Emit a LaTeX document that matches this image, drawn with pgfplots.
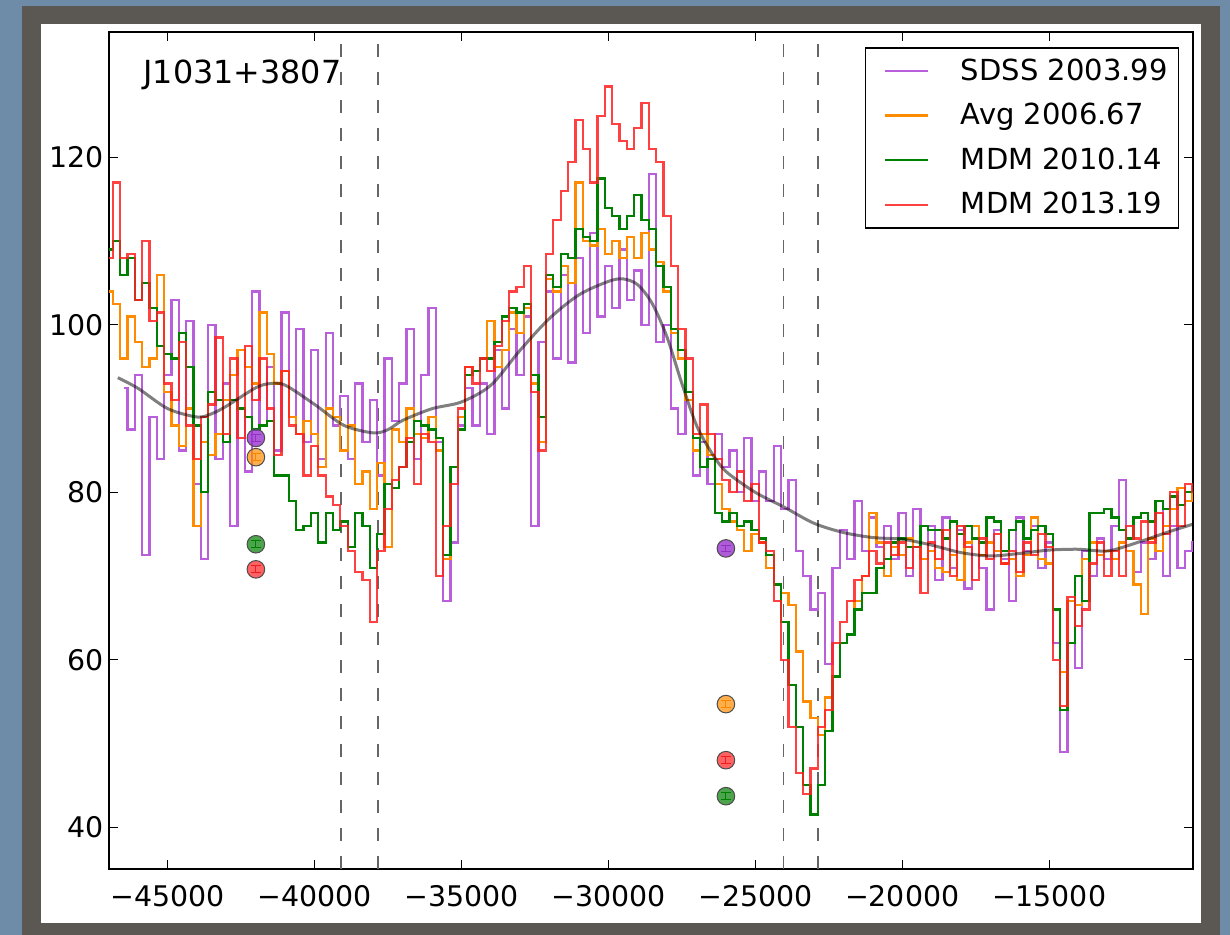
\documentclass[border=0pt]{standalone}
\usepackage{fontspec}
\setmainfont{DejaVu Sans}
\usepackage{pgfplots}
\usepackage{pgfplotstable}
\pgfplotsset{compat=1.18}

\definecolor{outerblue}{HTML}{6E8CA8}
\definecolor{framegray}{HTML}{5B5752}
\definecolor{sdss}{HTML}{BA5FDC}
\definecolor{avgc}{HTML}{FF8C00}
\definecolor{mdmten}{HTML}{008000}
\definecolor{mdmthirteen}{HTML}{FF2020}
\definecolor{ptpurple}{HTML}{9933CC}

% flux density per velocity bin (km/s) for the four epochs
\pgfplotstableread{
x sdss avg m10 m13
-47000 nan 104 109 108
-46750 nan 102.5 110 117
-46500 92.5 96 106 108
-46250 87.5 101 108 108.5
-46000 94 98 103 103
-45750 72.5 95 105 110
-45500 89 96 102 100.5
-45250 84 106 97.5 101.5
-45000 94 92 96.5 93
-44750 103 88 96 91
-44500 85 85.5 99 98
-44250 100.5 90 95 88
-44000 81 76 88 84
-43750 72 86 80 89
-43500 100 84.5 92 90.5
-43250 84 87 91 98.5
-43000 93 91 86 87
-42750 76 94 91 96
-42500 90 97 90 86.5
-42250 82.5 95 89 97.5
-42000 104 93 87.5 91
-41750 88 101.5 88 96
-41500 95 96.5 88.5 90
-41250 85 93 82 84.5
-41000 101.5 94.5 82 94.5
-40750 89 89 79 88
-40500 99.5 87 75.5 87
-40250 86 88.5 76 82
-40000 97 87 77.5 85.5
-39750 84 83 74 82
-39500 99 90 77.5 79.5
-39250 88 89 75.5 78.5
-39000 91.5 85 76.5 76
-38750 84 88 73.5 73
-38500 93 81 77.5 70.5
-38250 86 82.5 76 69.5
-38000 91 78 71 64.5
-37750 82 83.5 75 73
-37500 96 73.5 81 78
-37250 88.5 87.5 80.5 81.5
-37000 93 86 83 83
-36750 99.5 90 86 86.5
-36500 84 87 88.5 81
-36250 94 86.5 88 87
-36000 102 89 87.5 86
-35750 86 85 86.5 70
-35500 67 72 72.5 76
-35250 74 83 83 81
-35000 88 89 87.5 90
-34750 92.5 95 94 95
-34500 88 94.5 94.5 93
-34250 93 96 96 96
-34000 87 100.5 96 94.5
-33750 97 95 98 97.5
-33500 90 97 101 100.5
-33250 99.5 101.5 102 104
-33000 94 99 101.5 104.5
-32750 101 102 102.5 107
-32500 76 93 94 92
-32250 98 86 89 85
-32000 104 105.5 106 108.5
-31750 96 104 104.5 112.5
-31500 106 107 108.5 116
-31250 95.5 105 108 119.5
-31000 108 117 111.5 124.5
-30750 99 110 110.5 121
-30500 111 109.5 110 117
-30250 101 111.5 117.5 125
-30000 107 108.5 114 128.5
-29750 102 110 113 124
-29500 109 108 111.5 122
-29250 103 110.5 113 121
-29000 106.5 108 115.5 123.5
-28750 100 111 112.5 126.5
-28500 118 109 111.5 121
-28250 98 107.5 107 119.5
-28000 100 104 104.5 113
-27750 90 99 99.5 107
-27500 87 96 97 99.5
-27250 91 91 92 96
-27000 82 85 86.5 87
-26750 86 87 83 90.5
-26500 81 84.5 84 87
-26250 87 81 77.5 84
-26000 83 78 76.5 81.5
-25750 85 76.5 77.5 80
-25500 80 75.5 76 82.5
-25250 86.5 73 76.5 79
-25000 79 75 75.5 81
-24750 82.5 74 74.5 74
-24500 79 71 72.5 73
-24250 85.5 69 69 67
-24000 78 68 64.5 60
-23750 81.5 66.5 57 52
-23500 73 61 52 46.5
-23250 70 55 45 44
-23000 66 53 41.5 47
-22750 68 51 45 52
-22500 59.5 55.5 51.5 54
-22250 71 58 58 62
-22000 75.5 62 62 64.5
-21750 72 63 63 67
-21500 79 67 66 69.5
-21250 73 70 68 70
-21000 77 77.5 68 73
-20750 73.5 74 71 71.5
-20500 76 70 72 74
-20250 72 73.5 74 72.5
-20000 77.5 72.5 74.5 74
-19750 70 74.5 73.5 71
-19500 78 73.5 73.5 73.5
-19250 72 72 76 68
-19000 76 73 75.5 74
-18750 69.5 71 75.5 72
-18500 77 70.5 74.5 75.5
-18250 71 72.5 76.5 70
-18000 75.5 69.5 75 76
-17750 68.5 74 76 73.5
-17500 76 76 74.5 69.5
-17250 71 72.5 74 74.5
-17000 66 74 77 72
-16750 75.5 73 76.5 75
-16500 72 71.5 73 71.5
-16250 67 72 75.5 73
-16000 77 70 76.5 70.5
-15750 73 72.5 74.5 74
-15500 76 77 75.5 72.5
-15250 71 72 76 75
-15000 74 71.5 75 73.5
-14750 62 66 66 60
-14500 49 58.5 54 54.5
-14250 67 67 62 67.5
-14000 59 66.5 70 64
-13750 73 72 67 66
-13500 70 74 77.5 71.5
-13250 74.5 72.5 77.5 74
-13000 72 73 78 70
-12750 76 72 77 73
-12500 81.5 74 75.5 70
-12250 73 73 74.5 76
-12000 70.5 69 77 74.5
-11750 74 65.5 77.5 76.5
-11500 72 74.5 76.5 74
-11250 79 73 79 77.5
-11000 70 76 78 75
-10750 76 78 79.5 80
-10500 71 80.5 78.5 76
-10250 73 79 80 81
-10000 74 80 80 80
}\spectra

\begin{document}
\begin{tikzpicture}[font=\fontsize{14.2pt}{17pt}\selectfont]
\useasboundingbox (0,0) rectangle (615pt,467.5pt);
\fill[outerblue] (0,0) rectangle (615pt,467.5pt);
\fill[framegray] (11pt,0) rectangle (610pt,464.5pt);
\fill[white] (20.5pt,6pt) rectangle (600.5pt,455.5pt);
\begin{axis}[
  at={(54.5pt,33pt)}, anchor=south west,
  scale only axis, width=542pt, height=418.5pt,
  xmin=-47000, xmax=-10100, ymin=35, ymax=135,
  scaled x ticks=false, scaled y ticks=false,
  axis line style={line width=1pt},
  tick align=inside, major tick length=4.5pt,
  every tick/.style={black, line width=0.5pt},
  xtick={-45000,-40000,-35000,-30000,-25000,-20000,-15000},
  xticklabels={−45000,−40000,−35000,−30000,−25000,−20000,−15000},
  ytick={40,60,80,100,120},
  yticklabels={40,60,80,100,120},
  tick label style={font=\fontsize{14.2pt}{17pt}\selectfont},
  xticklabel style={yshift=-4.5pt},
  yticklabel style={xshift=1pt},
  unbounded coords=jump,
  legend style={at={(0.9875,0.982)}, anchor=north east, draw=black,
    line width=0.8pt, inner xsep=3.5pt, inner ysep=3.5pt, row sep=6pt,
    column sep=14pt, font=\fontsize{14.5pt}{17pt}\selectfont},
  legend cell align=left,
  legend image code/.code={\path (0pt,0pt); \draw[#1] (5.5pt,0pt) -- (27pt,0pt);},
]
% velocity markers
\addplot[forget plot, color=black!60, line width=0.7pt, dash pattern=on 6.5pt off 7.5pt]
  coordinates {(-39100,35) (-39100,135)};
\addplot[forget plot, color=black!60, line width=0.7pt, dash pattern=on 6.5pt off 7.5pt]
  coordinates {(-37850,35) (-37850,135)};
\addplot[forget plot, color=black!60, line width=0.7pt, dash pattern=on 6.5pt off 7.5pt]
  coordinates {(-24050,35) (-24050,135)};
\addplot[forget plot, color=black!60, line width=0.7pt, dash pattern=on 6.5pt off 7.5pt]
  coordinates {(-22870,35) (-22870,135)};

% spectra
\addplot[const plot mark mid, color=sdss, line width=1.15pt] table[x=x, y=sdss] {\spectra};
\addlegendentry{SDSS 2003.99}
\addplot[const plot mark mid, color=avgc, line width=1.15pt] table[x=x, y=avg] {\spectra};
\addlegendentry{Avg 2006.67}
\addplot[const plot mark mid, color=mdmten, line width=1.15pt] table[x=x, y=m10] {\spectra};
\addlegendentry{MDM 2010.14}
\addplot[const plot mark mid, color=mdmthirteen, opacity=0.85, line width=1.15pt] table[x=x, y=m13] {\spectra};
\addlegendentry{MDM 2013.19}

% continuum fit
\addplot[forget plot, smooth, color=black, opacity=0.5, line width=1.5pt] coordinates {
(-46700,93.7) (-46000,92.4) (-45000,90.0) (-44000,89.0) (-43500,89.4)
(-43000,90.3) (-42000,92.5) (-41500,93.0) (-41000,92.8) (-40000,90.5)
(-39000,88.0) (-38000,87.1) (-37500,87.5) (-37000,88.6) (-36000,90.0)
(-35000,90.8) (-34000,92.8) (-33000,97.0) (-32000,100.8) (-31000,103.6)
(-30000,105.2) (-29500,105.5) (-29000,104.8) (-28500,102.5) (-28000,98.5)
(-27500,93.0) (-27000,88.0) (-26500,84.8) (-26000,82.5) (-25000,80.0)
(-24000,78.2) (-23000,76.3) (-22000,75.2) (-21000,74.6) (-20000,74.4)
(-19000,73.7) (-18000,72.8) (-17000,72.4) (-16000,72.7) (-15000,73.1)
(-14000,73.2) (-13000,73.0) (-12000,74.0) (-11000,75.2) (-10100,76.2)};

% integrated absorption points
\addplot[forget plot, only marks, mark=*, mark size=4.4pt,
  mark options={fill=ptpurple, fill opacity=0.8, draw=black!70, line width=0.5pt},
  error bars/.cd, y dir=both, y fixed=0.4,
  error bar style={color=ptpurple!80!black, line width=0.5pt},
  error mark options={rotate=90, mark size=2.5pt, color=ptpurple!80!black, line width=0.5pt}]
  coordinates {(-42000,86.5) (-26000,73.3)};
\addplot[forget plot, only marks, mark=*, mark size=4.4pt,
  mark options={fill=avgc, fill opacity=0.7, draw=black!70, line width=0.5pt},
  error bars/.cd, y dir=both, y fixed=0.4,
  error bar style={color=avgc!90!black, line width=0.5pt},
  error mark options={rotate=90, mark size=2.5pt, color=avgc!90!black, line width=0.5pt}]
  coordinates {(-42000,84.2) (-26000,54.7)};
\addplot[forget plot, only marks, mark=*, mark size=4.4pt,
  mark options={fill=mdmten, fill opacity=0.7, draw=black!70, line width=0.5pt},
  error bars/.cd, y dir=both, y fixed=0.4,
  error bar style={color=mdmten, line width=0.5pt},
  error mark options={rotate=90, mark size=2.5pt, color=mdmten, line width=0.5pt}]
  coordinates {(-42000,73.8) (-26000,43.7)};
\addplot[forget plot, only marks, mark=*, mark size=4.4pt,
  mark options={fill=mdmthirteen, fill opacity=0.7, draw=black!70, line width=0.5pt},
  error bars/.cd, y dir=both, y fixed=0.4,
  error bar style={color=mdmthirteen!80!black, line width=0.5pt},
  error mark options={rotate=90, mark size=2.5pt, color=mdmthirteen!80!black, line width=0.5pt}]
  coordinates {(-42000,70.8) (-26000,48.0)};

\node[anchor=west, inner sep=0pt, font=\fontsize{15.9pt}{18pt}\selectfont]
  at (rel axis cs:0.0314,0.949) {J1031+3807};
\end{axis}
\end{tikzpicture}
\end{document}
